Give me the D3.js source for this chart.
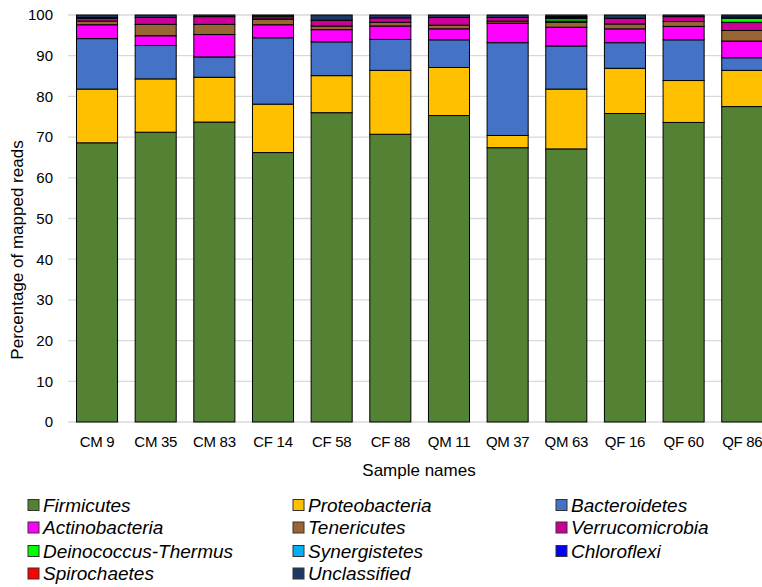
<!DOCTYPE html>
<html>
<head>
<meta charset="utf-8">
<script src="https://cdn.jsdelivr.net/npm/d3@7"></script>
<style>
  html, body { margin: 0; padding: 0; background: #fff; }
  svg { display: block; }
</style>
</head>
<body>
<svg id="chart" width="762" height="587"></svg>
<script>
// ---- data ----
const samples = ['CM 9', 'CM 35', 'CM 83', 'CF 14', 'CF 58', 'CF 88', 'QM 11', 'QM 37', 'QM 63', 'QF 16', 'QF 60', 'QF 86'];
const phyla = ['Firmicutes', 'Proteobacteria', 'Bacteroidetes', 'Actinobacteria', 'Tenericutes', 'Verrucomicrobia',
  'Deinococcus-Thermus', 'Synergistetes', 'Chloroflexi', 'Spirochaetes', 'Unclassified'];

const firmicutes      = [68.6, 71.2, 73.7, 66.2, 76.0, 70.7, 75.3, 67.4, 67.1, 75.8, 73.6, 77.5];
const proteobacteria  = [13.2, 13.1, 11.0, 11.9, 9.1, 15.7, 11.8, 3.0, 14.7, 11.1, 10.3, 8.9];
const bacteroidetes   = [12.4, 8.2, 5.0, 16.3, 8.3, 7.6, 6.8, 22.8, 10.6, 6.3, 10.0, 3.1];
const actinobacteria  = [3.4, 2.4, 5.5, 3.2, 3.0, 3.3, 2.7, 4.8, 4.6, 3.4, 3.3, 4.1];
const tenericutes     = [0.9, 2.8, 2.5, 1.3, 0.9, 0.9, 0.9, 0.5, 1.2, 1.2, 1.2, 2.6];
const verrucomicrobia = [0.7, 1.7, 1.9, 0.4, 1.4, 1.1, 1.9, 0.9, 0.3, 1.4, 1.2, 2.0];
const deinococcus     = [0.1, 0, 0, 0.4, 0, 0, 0, 0, 0.6, 0, 0, 1.0];
const synergistetes   = [0, 0, 0, 0, 0, 0, 0, 0, 0.1, 0, 0, 0.3];
const chloroflexi     = [0, 0, 0, 0, 0, 0, 0, 0, 0.3, 0, 0, 0];
const spirochaetes    = [0.1, 0, 0, 0, 0, 0, 0, 0, 0.1, 0, 0, 0];
const unclassified    = [0.6, 0.6, 0.4, 0.3, 1.3, 0.7, 0.6, 0.6, 0.4, 0.8, 0.4, 0.5];

const yTicks = [0, 10, 20, 30, 40, 50, 60, 70, 80, 90, 100];

const series = [firmicutes, proteobacteria, bacteroidetes, actinobacteria, tenericutes, verrucomicrobia,
  deinococcus, synergistetes, chloroflexi, spirochaetes, unclassified];
const colors = ['#548235', '#FFC000', '#4472C4', '#FF00FF', '#996633', '#CC0099',
  '#00FF00', '#00B0F0', '#0000FF', '#FF0000', '#203864'];

const font = "'Liberation Sans', Arial, Helvetica, sans-serif";

// table for d3.stack
const table = samples.map((s, i) => {
  const row = { sample: s };
  phyla.forEach((p, j) => { row[p] = series[j][i]; });
  return row;
});

const svg = d3.select('#chart');

const x = d3.scaleBand()
  .domain(samples)
  .range([67.7, 771.6])
  .paddingInner(0.3)
  .paddingOuter(0.15);

const y = d3.scaleLinear()
  .domain([0, 100])
  .range([422, 15]);

const color = d3.scaleOrdinal().domain(phyla).range(colors);

/****************** grid ******************/
svg.append('g')
  .selectAll('line')
  .data(yTicks)
  .join('line')
  .attr('x1', 68)
  .attr('x2', 762)
  .attr('y1', d => y(d))
  .attr('y2', d => y(d))
  .attr('stroke', '#d9d9d9')
  .attr('stroke-width', 1.3);

// y tick labels
const yAxis = svg.append('g')
  .attr('transform', 'translate(60,0)')
  .call(d3.axisLeft(y).tickValues(yTicks).tickSize(0).tickPadding(7));
yAxis.select('.domain').remove();
yAxis.selectAll('text')
  .attr('font-family', font)
  .attr('font-size', '15px')
  .attr('fill', '#000');

/****************** bars ******************/
const stacked = d3.stack().keys(phyla)(table);

svg.append('g')
  .selectAll('g')
  .data(stacked)
  .join('g')
  .attr('fill', d => color(d.key))
  .selectAll('rect')
  .data(d => d)
  .join('rect')
  .attr('x', d => x(d.data.sample))
  .attr('width', x.bandwidth())
  .attr('y', d => y(d[1]))
  .attr('height', d => Math.max(0, y(d[0]) - y(d[1])))
  .attr('stroke', '#000')
  .attr('stroke-width', 1)
  .attr('visibility', d => (d[1] - d[0]) > 0 ? 'visible' : 'hidden');

// x tick labels
const xAxis = svg.append('g')
  .attr('transform', 'translate(0,422)')
  .call(d3.axisBottom(x).tickSize(0).tickPadding(14));
xAxis.select('.domain').remove();
xAxis.selectAll('text')
  .attr('font-family', font)
  .attr('font-size', '15px')
  .attr('letter-spacing', '-0.3px')
  .attr('fill', '#000');

/****************** titles ******************/
svg.append('text')
  .text('Sample names')
  .attr('x', 419)
  .attr('y', 476)
  .attr('text-anchor', 'middle')
  .attr('font-family', font)
  .attr('font-size', '17px')
  .attr('fill', '#000');

svg.append('text')
  .text('Percentage of mapped reads')
  .attr('transform', 'translate(23,250) rotate(-90)')
  .attr('text-anchor', 'middle')
  .attr('font-family', font)
  .attr('font-size', '17px')
  .attr('fill', '#000');

/****************** legend ******************/
const colX = [28, 293, 556];
const rowY = [505, 527.5, 551, 573.5];

const legend = svg.append('g')
  .selectAll('g')
  .data(phyla)
  .join('g')
  .attr('transform', (d, i) => `translate(${colX[i % 3]},${rowY[Math.floor(i / 3)]})`);

legend.append('rect')
  .attr('x', 0)
  .attr('y', -5.5)
  .attr('width', 11)
  .attr('height', 11)
  .attr('fill', d => color(d))
  .attr('stroke', '#333')
  .attr('stroke-width', 1);

legend.append('text')
  .text(d => d)
  .attr('x', 15)
  .attr('y', 0)
  .attr('dy', '0.35em')
  .attr('font-family', font)
  .attr('font-size', '19px')
  .attr('font-style', 'italic')
  .attr('fill', '#000');
</script>
</body>
</html>
